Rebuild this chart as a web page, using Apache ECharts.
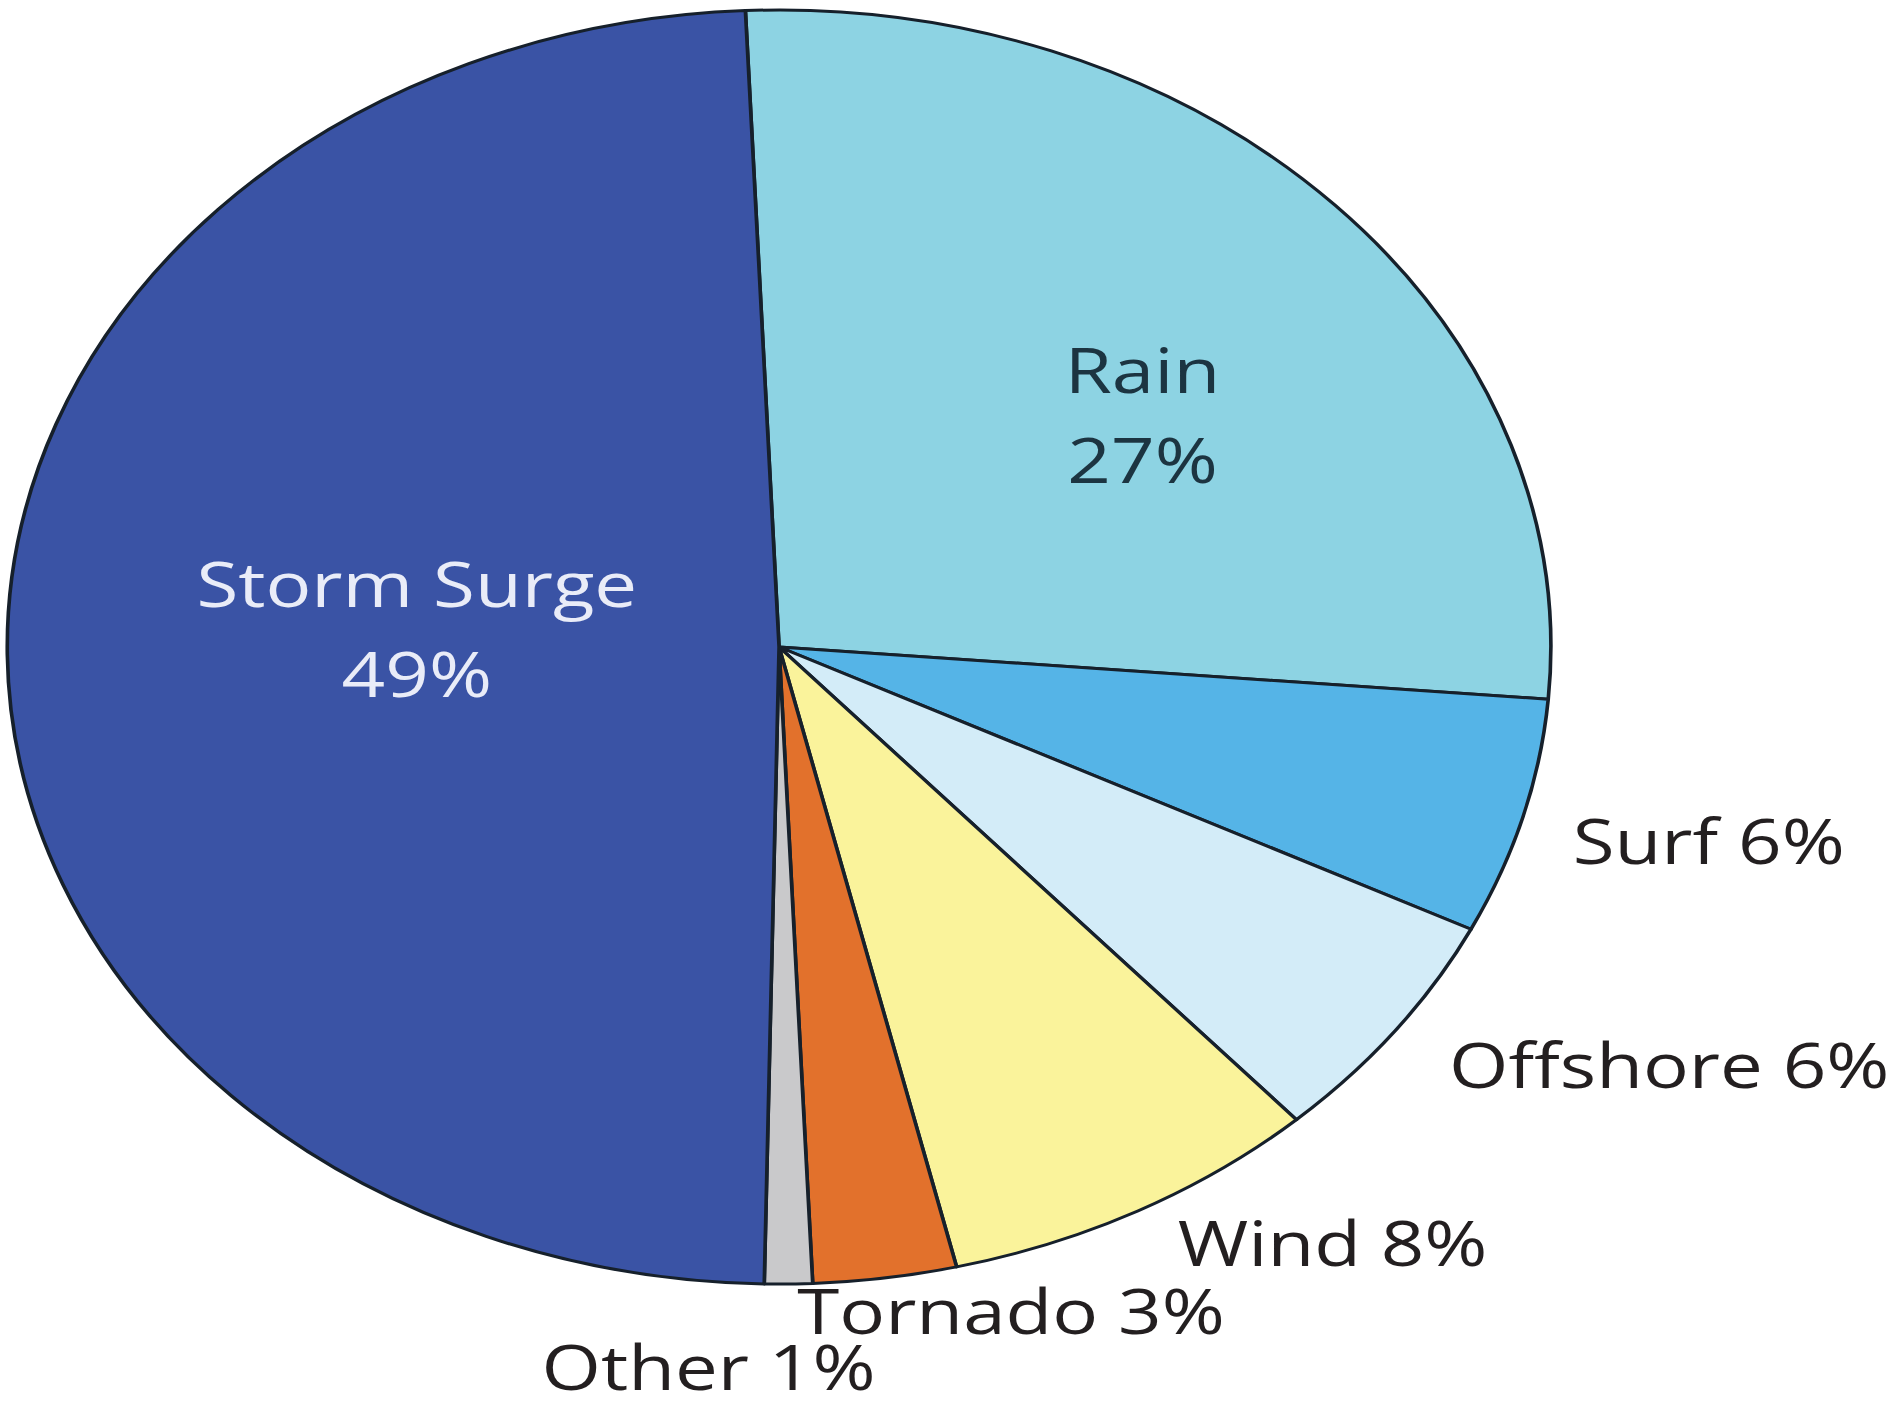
<!DOCTYPE html>
<html>
<head>
<meta charset="utf-8">
<script src="https://cdn.jsdelivr.net/npm/echarts/dist/echarts.min.js"></script>
<style>
html,body{margin:0;padding:0;background:#ffffff;overflow:hidden;width:1895px;height:1411px;}
#c{width:1564px;height:1411px;transform:scaleX(1.2116);transform-origin:0 0;}
</style>
</head>
<body>
<div id="c"></div>
<script>
// ---- data ----
const categories = ['Rain', 'Surf', 'Offshore', 'Wind', 'Tornado', 'Other', 'Storm Surge'];
const values = [27, 6, 6, 8, 3, 1, 49];

// ---- styles ----
const sliceColors = ['#8dd3e3', '#55b4e7', '#d3ecf8', '#faf39b', '#e2712c', '#c9c9cb', '#3a53a5'];
const insideLabels = { 'Rain': '#1c3441', 'Storm Surge': '#e9ecf8' };
// label anchor spots (unscaled page px), layout only
const labelSpots = {
  'Rain':        { x: 943, y: 414, align: 'center' },
  'Surf':        { x: 1298, y: 840, align: 'left' },
  'Offshore':    { x: 1196, y: 1064, align: 'left' },
  'Wind':        { x: 972, y: 1242, align: 'left' },
  'Tornado':     { x: 658, y: 1310, align: 'left' },
  'Other':       { x: 447, y: 1366, align: 'left' },
  'Storm Surge': { x: 344, y: 628, align: 'center' }
};

const chart = echarts.init(document.getElementById('c'), null, { renderer: 'svg' });

const data = categories.map((name, i) => {
  const item = { name: name, value: values[i], itemStyle: { color: sliceColors[i] } };
  if (insideLabels[name]) {
    item.label = { formatter: '{b}\n{c}%', color: insideLabels[name], lineHeight: 90 };
  }
  return item;
});

chart.setOption({
  backgroundColor: '#ffffff',
  animation: false,
  series: [{
    type: 'pie',
    center: [643, 647],
    radius: 637,
    startAngle: 92.5,
    clockwise: true,
    avoidLabelOverlap: false,
    silent: true,
    itemStyle: { borderColor: '#16202b', borderWidth: 3 },
    label: {
      show: true,
      position: 'outside',
      formatter: '{b} {c}%',
      fontFamily: 'Open Sans',
      fontSize: 63,
      lineHeight: 64,
      color: '#231f20'
    },
    labelLine: { show: false },
    labelLayout: function (params) {
      const s = labelSpots[categories[params.dataIndex]];
      return { x: s.x, y: s.y, align: s.align, verticalAlign: 'middle' };
    },
    emphasis: { disabled: true },
    data: data
  }]
});
</script>
</body>
</html>
